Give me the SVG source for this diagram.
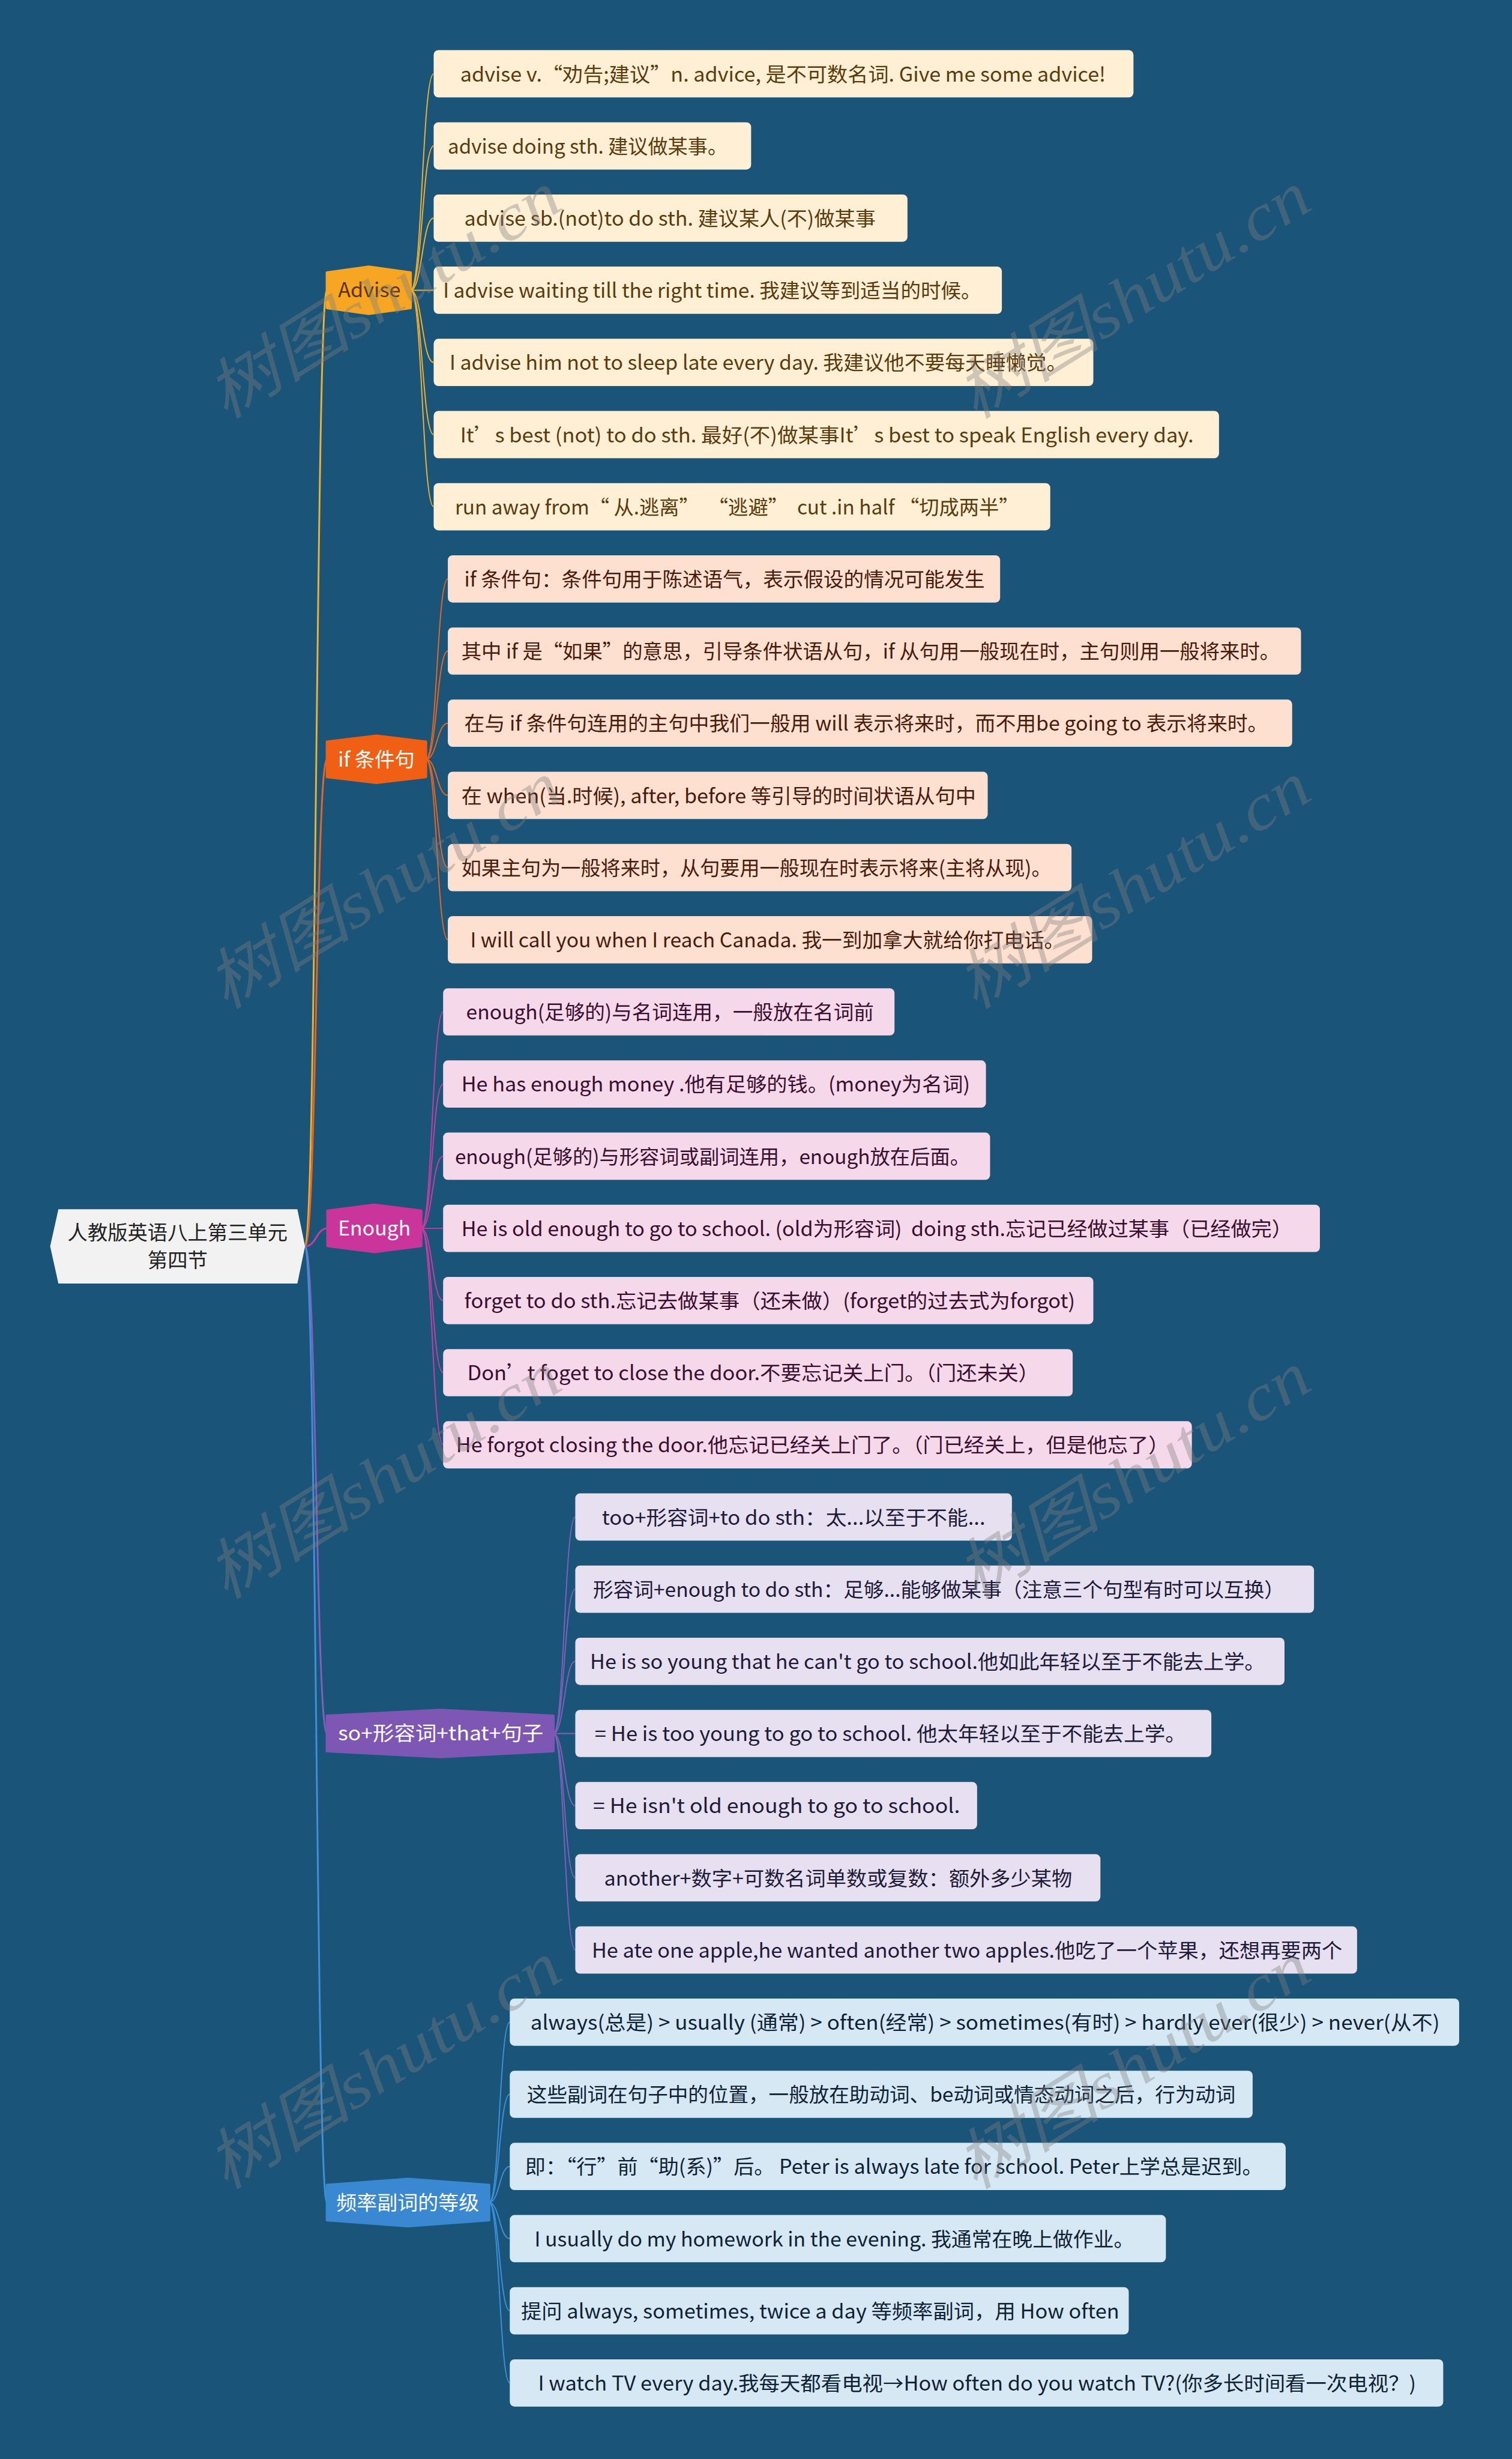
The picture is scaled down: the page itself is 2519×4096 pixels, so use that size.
<svg xmlns="http://www.w3.org/2000/svg" width="2519" height="4096" viewBox="0 0 2519 4096">
<style>
.tx{font-family:"Noto Sans CJK SC","Noto Sans",sans-serif;font-size:34px}
.ca{fill:#FFF0D5}.ta{fill:#5B3A0C}
.ci{fill:#FDE0D0}.ti{fill:#4A1A0A}
.ce{fill:#F5D8EA}.te{fill:#3A0E2E}
.cs{fill:#E6E0F0}.ts{fill:#1E1A3A}
.cf{fill:#D7E8F5}.tf{fill:#0E2236}
.k{fill:none;stroke-width:2}
.r{fill:none;stroke-width:3}
.hx{stroke-width:4;stroke-linejoin:round}
.wm{font-family:"Liberation Serif","Noto Sans CJK SC",serif;font-style:italic;font-size:110px;fill:#808080;opacity:0.38}
</style>
<rect x="0" y="0" width="2519" height="4096" fill="#1A5479"/>
<g transform="scale(0.983)">
<g id="connectors">
<path class="r" stroke="#F0B030" d="M517,2112 C536,2112 536,491.8 554,491.8"/>
<path class="r" stroke="#E8661E" d="M517,2112 C536,2112 536,1286.7 554,1286.7"/>
<path class="r" stroke="#C43FA0" d="M517,2112 C536,2112 536,2081.5 555,2081.5"/>
<path class="r" stroke="#8060B8" d="M517,2112 C536,2112 536,2937.4 554,2937.4"/>
<path class="r" stroke="#3F8FDA" d="M517,2112 C536,2112 536,3732.3 554,3732.3"/>
<g stroke="#F0B030">
<path class="k" d="M696,491.8 C715.5,491.8 715.5,125 735,125"/>
<path class="k" d="M696,491.8 C715.5,491.8 715.5,247.3 735,247.3"/>
<path class="k" d="M696,491.8 C715.5,491.8 715.5,369.6 735,369.6"/>
<path class="k" d="M696,491.8 L735,491.8"/>
<path class="k" d="M696,491.8 C715.5,491.8 715.5,614.1 735,614.1"/>
<path class="k" d="M696,491.8 C715.5,491.8 715.5,736.4 735,736.4"/>
<path class="k" d="M696,491.8 C715.5,491.8 715.5,858.7 735,858.7"/>
</g>
<g stroke="#E8661E">
<path class="k" d="M722,1286.7 C740.5,1286.7 740.5,981 759,981"/>
<path class="k" d="M722,1286.7 C740.5,1286.7 740.5,1103.2 759,1103.2"/>
<path class="k" d="M722,1286.7 C740.5,1286.7 740.5,1225.5 759,1225.5"/>
<path class="k" d="M722,1286.7 C740.5,1286.7 740.5,1347.8 759,1347.8"/>
<path class="k" d="M722,1286.7 C740.5,1286.7 740.5,1470.1 759,1470.1"/>
<path class="k" d="M722,1286.7 C740.5,1286.7 740.5,1592.4 759,1592.4"/>
</g>
<g stroke="#C43FA0">
<path class="k" d="M714,2081.5 C732.5,2081.5 732.5,1714.6 751,1714.6"/>
<path class="k" d="M714,2081.5 C732.5,2081.5 732.5,1836.9 751,1836.9"/>
<path class="k" d="M714,2081.5 C732.5,2081.5 732.5,1959.2 751,1959.2"/>
<path class="k" d="M714,2081.5 L751,2081.5"/>
<path class="k" d="M714,2081.5 C732.5,2081.5 732.5,2203.8 751,2203.8"/>
<path class="k" d="M714,2081.5 C732.5,2081.5 732.5,2326 751,2326"/>
<path class="k" d="M714,2081.5 C732.5,2081.5 732.5,2448.3 751,2448.3"/>
</g>
<g stroke="#8060B8">
<path class="k" d="M938,2937.4 C956.5,2937.4 956.5,2570.6 975,2570.6"/>
<path class="k" d="M938,2937.4 C956.5,2937.4 956.5,2692.9 975,2692.9"/>
<path class="k" d="M938,2937.4 C956.5,2937.4 956.5,2815.2 975,2815.2"/>
<path class="k" d="M938,2937.4 L975,2937.4"/>
<path class="k" d="M938,2937.4 C956.5,2937.4 956.5,3059.7 975,3059.7"/>
<path class="k" d="M938,2937.4 C956.5,2937.4 956.5,3182 975,3182"/>
<path class="k" d="M938,2937.4 C956.5,2937.4 956.5,3304.3 975,3304.3"/>
</g>
<g stroke="#3F8FDA">
<path class="k" d="M829,3732.3 C846.5,3732.3 846.5,3426.6 864,3426.6"/>
<path class="k" d="M829,3732.3 C846.5,3732.3 846.5,3548.8 864,3548.8"/>
<path class="k" d="M829,3732.3 C846.5,3732.3 846.5,3671.1 864,3671.1"/>
<path class="k" d="M829,3732.3 C846.5,3732.3 846.5,3793.4 864,3793.4"/>
<path class="k" d="M829,3732.3 C846.5,3732.3 846.5,3915.7 864,3915.7"/>
<path class="k" d="M829,3732.3 C846.5,3732.3 846.5,4038 864,4038"/>
</g>
</g>
<g id="root">
<path d="M85,2112 L99,2049 L504,2049 L517,2112 L504,2175 L99,2175 Z" fill="#F2F2F2"/>
<text class="tx" x="301" y="2101" text-anchor="middle" fill="#222222" textLength="373" lengthAdjust="spacingAndGlyphs">人教版英语八上第三单元</text>
<text class="tx" x="301" y="2147" text-anchor="middle" fill="#222222">第四节</text>
</g>
<g id="cat-advise">
<path class="hx" fill="#F6A623" stroke="#F6A623" d="M554,461.8 L625,451.8 L696,461.8 L696,521.8 L625,531.8 L554,521.8 Z"/>
<text class="tx" x="626" y="503.8" text-anchor="middle" fill="#5B3300" textLength="106" lengthAdjust="spacingAndGlyphs">Advise</text>
</g>
<g id="cat-if">
<path class="hx" fill="#F05F14" stroke="#F05F14" d="M554,1256.7 L638,1246.7 L722,1256.7 L722,1316.7 L638,1326.7 L554,1316.7 Z"/>
<text class="tx" x="638" y="1298.7" text-anchor="middle" fill="#FFFFFF" textLength="130" lengthAdjust="spacingAndGlyphs">if 条件句</text>
</g>
<g id="cat-enough">
<path class="hx" fill="#C9359B" stroke="#C9359B" d="M555,2051.5 L634.5,2041.5 L714,2051.5 L714,2111.5 L634.5,2121.5 L555,2111.5 Z"/>
<text class="tx" x="634.5" y="2093.5" text-anchor="middle" fill="#FFFFFF" textLength="123" lengthAdjust="spacingAndGlyphs">Enough</text>
</g>
<g id="cat-so">
<path class="hx" fill="#7E57B5" stroke="#7E57B5" d="M554,2907.4 L746,2897.4 L938,2907.4 L938,2967.4 L746,2977.4 L554,2967.4 Z"/>
<text class="tx" x="747" y="2949.4" text-anchor="middle" fill="#FFFFFF" textLength="348" lengthAdjust="spacingAndGlyphs">so+形容词+that+句子</text>
</g>
<g id="cat-freq">
<path class="hx" fill="#3A87D2" stroke="#3A87D2" d="M554,3702.3 L691.5,3692.3 L829,3702.3 L829,3762.3 L691.5,3772.3 L554,3762.3 Z"/>
<text class="tx" x="691" y="3744.3" text-anchor="middle" fill="#FFFFFF" textLength="242" lengthAdjust="spacingAndGlyphs">频率副词的等级</text>
</g>
<g id="a1"><rect class="ca" x="735" y="85" width="1186" height="80" rx="8"/><text class="tx ta" x="780" y="138" textLength="1094" lengthAdjust="spacingAndGlyphs">advise v.“劝告;建议”n. advice, 是不可数名词. Give me some advice!</text></g>
<g id="a2"><rect class="ca" x="735" y="207.3" width="538" height="80" rx="8"/><text class="tx ta" x="759" y="260.3" textLength="474" lengthAdjust="spacingAndGlyphs">advise doing sth. 建议做某事。</text></g>
<g id="a3"><rect class="ca" x="735" y="329.6" width="803" height="80" rx="8"/><text class="tx ta" x="787" y="382.6" textLength="697" lengthAdjust="spacingAndGlyphs">advise sb.(not)to do sth. 建议某人(不)做某事</text></g>
<g id="a4"><rect class="ca" x="735" y="451.8" width="963" height="80" rx="8"/><text class="tx ta" x="751" y="504.8" textLength="912" lengthAdjust="spacingAndGlyphs">I advise waiting till the right time. 我建议等到适当的时候。</text></g>
<g id="a5"><rect class="ca" x="735" y="574.1" width="1118" height="80" rx="8"/><text class="tx ta" x="762" y="627.1" textLength="1046" lengthAdjust="spacingAndGlyphs">I advise him not to sleep late every day. 我建议他不要每天睡懒觉。</text></g>
<g id="a6"><rect class="ca" x="735" y="696.4" width="1331" height="80" rx="8"/><text class="tx ta" x="780" y="749.4" textLength="1243" lengthAdjust="spacingAndGlyphs">It’s best (not) to do sth. 最好(不)做某事It’s best to speak English every day.</text></g>
<g id="a7"><rect class="ca" x="735" y="818.7" width="1045" height="80" rx="8"/><text class="tx ta" x="771" y="871.7" textLength="956" lengthAdjust="spacingAndGlyphs" xml:space="preserve">run away from“ 从.逃离”  “逃避”  cut .in half “切成两半”</text></g>
<g id="i1"><rect class="ci" x="759" y="941" width="936" height="80" rx="8"/><text class="tx ti" x="787" y="994" textLength="882" lengthAdjust="spacingAndGlyphs">if 条件句：条件句用于陈述语气，表示假设的情况可能发生</text></g>
<g id="i2"><rect class="ci" x="759" y="1063.2" width="1446" height="80" rx="8"/><text class="tx ti" x="782" y="1116.2" textLength="1387" lengthAdjust="spacingAndGlyphs">其中 if 是“如果”的意思，引导条件状语从句，if 从句用一般现在时，主句则用一般将来时。</text></g>
<g id="i3"><rect class="ci" x="759" y="1185.5" width="1431" height="80" rx="8"/><text class="tx ti" x="787" y="1238.5" textLength="1362" lengthAdjust="spacingAndGlyphs">在与 if 条件句连用的主句中我们一般用 will 表示将来时，而不用be going to 表示将来时。</text></g>
<g id="i4"><rect class="ci" x="759" y="1307.8" width="915" height="80" rx="8"/><text class="tx ti" x="782" y="1360.8" textLength="872" lengthAdjust="spacingAndGlyphs">在 when(当.时候), after, before 等引导的时间状语从句中</text></g>
<g id="i5"><rect class="ci" x="759" y="1430.1" width="1057" height="80" rx="8"/><text class="tx ti" x="782" y="1483.1" textLength="1000" lengthAdjust="spacingAndGlyphs">如果主句为一般将来时，从句要用一般现在时表示将来(主将从现)。</text></g>
<g id="i6"><rect class="ci" x="759" y="1552.4" width="1092" height="80" rx="8"/><text class="tx ti" x="797" y="1605.4" textLength="1007" lengthAdjust="spacingAndGlyphs">I will call you when I reach Canada. 我一到加拿大就给你打电话。</text></g>
<g id="e1"><rect class="ce" x="751" y="1674.6" width="765" height="80" rx="8"/><text class="tx te" x="790" y="1727.6" textLength="691" lengthAdjust="spacingAndGlyphs">enough(足够的)与名词连用，一般放在名词前</text></g>
<g id="e2"><rect class="ce" x="751" y="1796.9" width="920" height="80" rx="8"/><text class="tx te" x="782" y="1849.9" textLength="862" lengthAdjust="spacingAndGlyphs">He has enough money .他有足够的钱。(money为名词)</text></g>
<g id="e3"><rect class="ce" x="751" y="1919.2" width="927" height="80" rx="8"/><text class="tx te" x="771" y="1972.2" textLength="873" lengthAdjust="spacingAndGlyphs">enough(足够的)与形容词或副词连用，enough放在后面。</text></g>
<g id="e4"><rect class="ce" x="751" y="2041.5" width="1486" height="80" rx="8"/><text class="tx te" x="782" y="2094.5" textLength="1408" lengthAdjust="spacingAndGlyphs" xml:space="preserve">He is old enough to go to school. (old为形容词)  doing sth.忘记已经做过某事（已经做完）</text></g>
<g id="e5"><rect class="ce" x="751" y="2163.8" width="1102" height="80" rx="8"/><text class="tx te" x="787" y="2216.8" textLength="1035" lengthAdjust="spacingAndGlyphs">forget to do sth.忘记去做某事（还未做）(forget的过去式为forgot)</text></g>
<g id="e6"><rect class="ce" x="751" y="2286" width="1067" height="80" rx="8"/><text class="tx te" x="792" y="2339" textLength="969" lengthAdjust="spacingAndGlyphs">Don’t foget to close the door.不要忘记关上门。（门还未关）</text></g>
<g id="e7"><rect class="ce" x="751" y="2408.3" width="1269" height="80" rx="8"/><text class="tx te" x="773" y="2461.3" textLength="1208" lengthAdjust="spacingAndGlyphs">He forgot closing the door.他忘记已经关上门了。（门已经关上，但是他忘了）</text></g>
<g id="s1"><rect class="cs" x="975" y="2530.6" width="740" height="80" rx="8"/><text class="tx ts" x="1020" y="2583.6" textLength="650" lengthAdjust="spacingAndGlyphs">too+形容词+to do sth：太...以至于不能...</text></g>
<g id="s2"><rect class="cs" x="975" y="2652.9" width="1252" height="80" rx="8"/><text class="tx ts" x="1005" y="2705.9" textLength="1172" lengthAdjust="spacingAndGlyphs">形容词+enough to do sth：足够...能够做某事（注意三个句型有时可以互换）</text></g>
<g id="s3"><rect class="cs" x="975" y="2775.2" width="1202" height="80" rx="8"/><text class="tx ts" x="1000" y="2828.2" textLength="1144" lengthAdjust="spacingAndGlyphs">He is so young that he can't go to school.他如此年轻以至于不能去上学。</text></g>
<g id="s4"><rect class="cs" x="975" y="2897.4" width="1078" height="80" rx="8"/><text class="tx ts" x="1008" y="2950.4" textLength="1002" lengthAdjust="spacingAndGlyphs">= He is too young to go to school. 他太年轻以至于不能去上学。</text></g>
<g id="s5"><rect class="cs" x="975" y="3019.7" width="681" height="80" rx="8"/><text class="tx ts" x="1005" y="3072.7" textLength="622" lengthAdjust="spacingAndGlyphs">= He isn't old enough to go to school.</text></g>
<g id="s6"><rect class="cs" x="975" y="3142" width="890" height="80" rx="8"/><text class="tx ts" x="1024" y="3195" textLength="793" lengthAdjust="spacingAndGlyphs">another+数字+可数名词单数或复数：额外多少某物</text></g>
<g id="s7"><rect class="cs" x="975" y="3264.3" width="1325" height="80" rx="8"/><text class="tx ts" x="1003" y="3317.3" textLength="1272" lengthAdjust="spacingAndGlyphs">He ate one apple,he wanted another two apples.他吃了一个苹果，还想再要两个</text></g>
<g id="f1"><rect class="cf" x="864" y="3386.6" width="1609" height="80" rx="8"/><text class="tx tf" x="899" y="3439.6" textLength="1541" lengthAdjust="spacingAndGlyphs">always(总是) &gt; usually (通常) &gt; often(经常) &gt; sometimes(有时) &gt; hardly ever(很少) &gt; never(从不)</text></g>
<g id="f2"><rect class="cf" x="864" y="3508.8" width="1259" height="80" rx="8"/><text class="tx tf" x="893" y="3561.8" textLength="1201" lengthAdjust="spacingAndGlyphs">这些副词在句子中的位置，一般放在助动词、be动词或情态动词之后，行为动词</text></g>
<g id="f3"><rect class="cf" x="864" y="3631.1" width="1315" height="80" rx="8"/><text class="tx tf" x="890" y="3684.1" textLength="1250" lengthAdjust="spacingAndGlyphs">即：“行”前“助(系)”后。 Peter is always late for school. Peter上学总是迟到。</text></g>
<g id="f4"><rect class="cf" x="864" y="3753.4" width="1112" height="80" rx="8"/><text class="tx tf" x="906" y="3806.4" textLength="1016" lengthAdjust="spacingAndGlyphs">I usually do my homework in the evening. 我通常在晚上做作业。</text></g>
<g id="f5"><rect class="cf" x="864" y="3875.7" width="1049" height="80" rx="8"/><text class="tx tf" x="883" y="3928.7" textLength="1014" lengthAdjust="spacingAndGlyphs">提问 always, sometimes, twice a day 等频率副词，用 How often</text></g>
<g id="f6"><rect class="cf" x="864" y="3998" width="1582" height="80" rx="8"/><text class="tx tf" x="912" y="4051" textLength="1488" lengthAdjust="spacingAndGlyphs">I watch TV every day.我每天都看电视→How often do you watch TV?(你多长时间看一次电视？)</text></g>
<g id="watermarks">
<text class="wm" x="650" y="538" text-anchor="middle" transform="rotate(-32 650 500)" textLength="680" lengthAdjust="spacingAndGlyphs">树图shutu.cn</text>
<text class="wm" x="1920" y="538" text-anchor="middle" transform="rotate(-32 1920 500)" textLength="680" lengthAdjust="spacingAndGlyphs">树图shutu.cn</text>
<text class="wm" x="650" y="1538" text-anchor="middle" transform="rotate(-32 650 1500)" textLength="680" lengthAdjust="spacingAndGlyphs">树图shutu.cn</text>
<text class="wm" x="1920" y="1538" text-anchor="middle" transform="rotate(-32 1920 1500)" textLength="680" lengthAdjust="spacingAndGlyphs">树图shutu.cn</text>
<text class="wm" x="650" y="2538" text-anchor="middle" transform="rotate(-32 650 2500)" textLength="680" lengthAdjust="spacingAndGlyphs">树图shutu.cn</text>
<text class="wm" x="1920" y="2538" text-anchor="middle" transform="rotate(-32 1920 2500)" textLength="680" lengthAdjust="spacingAndGlyphs">树图shutu.cn</text>
<text class="wm" x="650" y="3538" text-anchor="middle" transform="rotate(-32 650 3500)" textLength="680" lengthAdjust="spacingAndGlyphs">树图shutu.cn</text>
<text class="wm" x="1920" y="3538" text-anchor="middle" transform="rotate(-32 1920 3500)" textLength="680" lengthAdjust="spacingAndGlyphs">树图shutu.cn</text>
</g>
</g>
</svg>
